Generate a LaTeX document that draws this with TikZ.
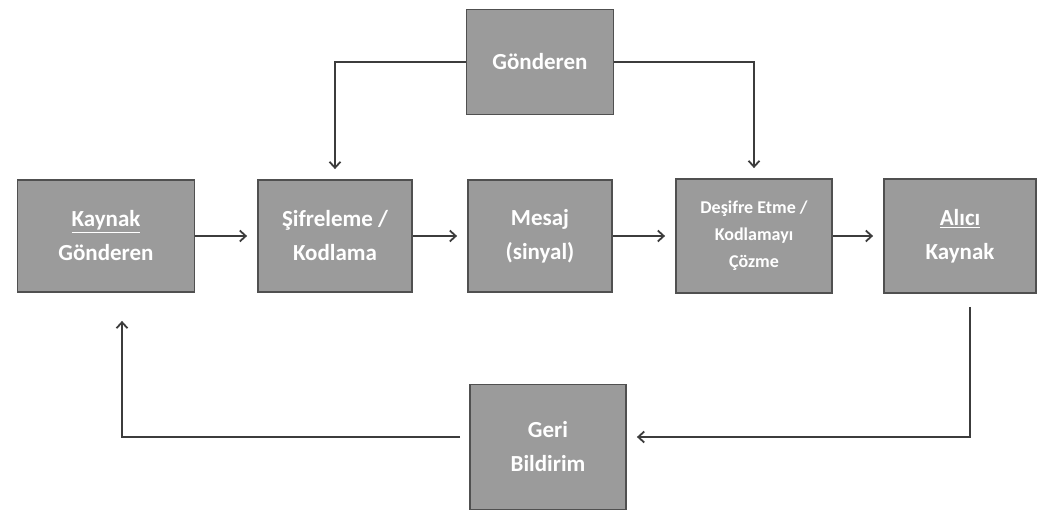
\documentclass[tikz,border=0pt]{standalone}
\usepackage{fontspec}
\setmainfont{Carlito}
\usetikzlibrary{arrows.meta}

\definecolor{boxfill}{HTML}{9B9B9B}
\definecolor{boxedge}{HTML}{505050}
\definecolor{linegray}{HTML}{3C3C3C}

\begin{document}
\begin{tikzpicture}[x=1pt, y=-1pt, >={Straight Barb[length=6pt,width=11pt,line width=1.8pt]}, auto,
	block/.style={draw=boxedge, fill=boxfill, line width=1.8pt, text=white, align=center, inner sep=0pt,
		font=\bfseries\fontsize{23}{34}\selectfont},
	small/.style={font=\bfseries\fontsize{18}{27}\selectfont},
	flow/.style={->, draw=linegray, line width=1.9pt, shorten >=10pt}]
	\useasboundingbox (0,0) rectangle (1046,518);

	% Nodes {kaynak, sifre, mesaj, desifre, alici, gonderen, geri}
	\node [block, minimum width=177pt, minimum height=112pt] 		(kaynak)   at (106,236)  {\underline{Kaynak}\\Gönderen};
	\node [block, minimum width=154pt, minimum height=112pt] 		(sifre)    at (335,236)  {Şifreleme /\\Kodlama};
	\node [block, minimum width=144pt, minimum height=112pt] 		(mesaj)    at (540,236)  {Mesaj\\(sinyal)};
	\node [block, small, minimum width=156pt, minimum height=114pt]	(desifre)  at (754,236)  {Deşifre Etme /\\Kodlamayı\\Çözme};
	\node [block, minimum width=152pt, minimum height=114pt] 		(alici)    at (960,236)  {\underline{Alıcı}\\Kaynak};
	\node [block, minimum width=147pt, minimum height=105pt] 		(gonderen) at (540,62)   {Gönderen};
	\node [block, minimum width=156pt, minimum height=125pt] 		(geri)     at (548,447)  {Geri\\Bildirim};

	% Paths
	\draw [flow] 	(kaynak)  -- (sifre);
	\draw [flow] 	(sifre)   -- (mesaj);
	\draw [flow] 	(mesaj)   -- (desifre);
	\draw [flow] 	(desifre) -- (alici);
	\draw [flow] 	(gonderen.west) -| (sifre.north);
	\draw [flow] 	(gonderen.east) -| (desifre.north);
	\draw [flow, shorten <=13pt] 	([xshift=10pt]alici.south) |- ([yshift=10pt]geri.east);
	\draw [flow, shorten <=9pt, shorten >=28pt] 	([yshift=10pt]geri.west) -| ([xshift=16pt]kaynak.south);

\end{tikzpicture}
\end{document}
